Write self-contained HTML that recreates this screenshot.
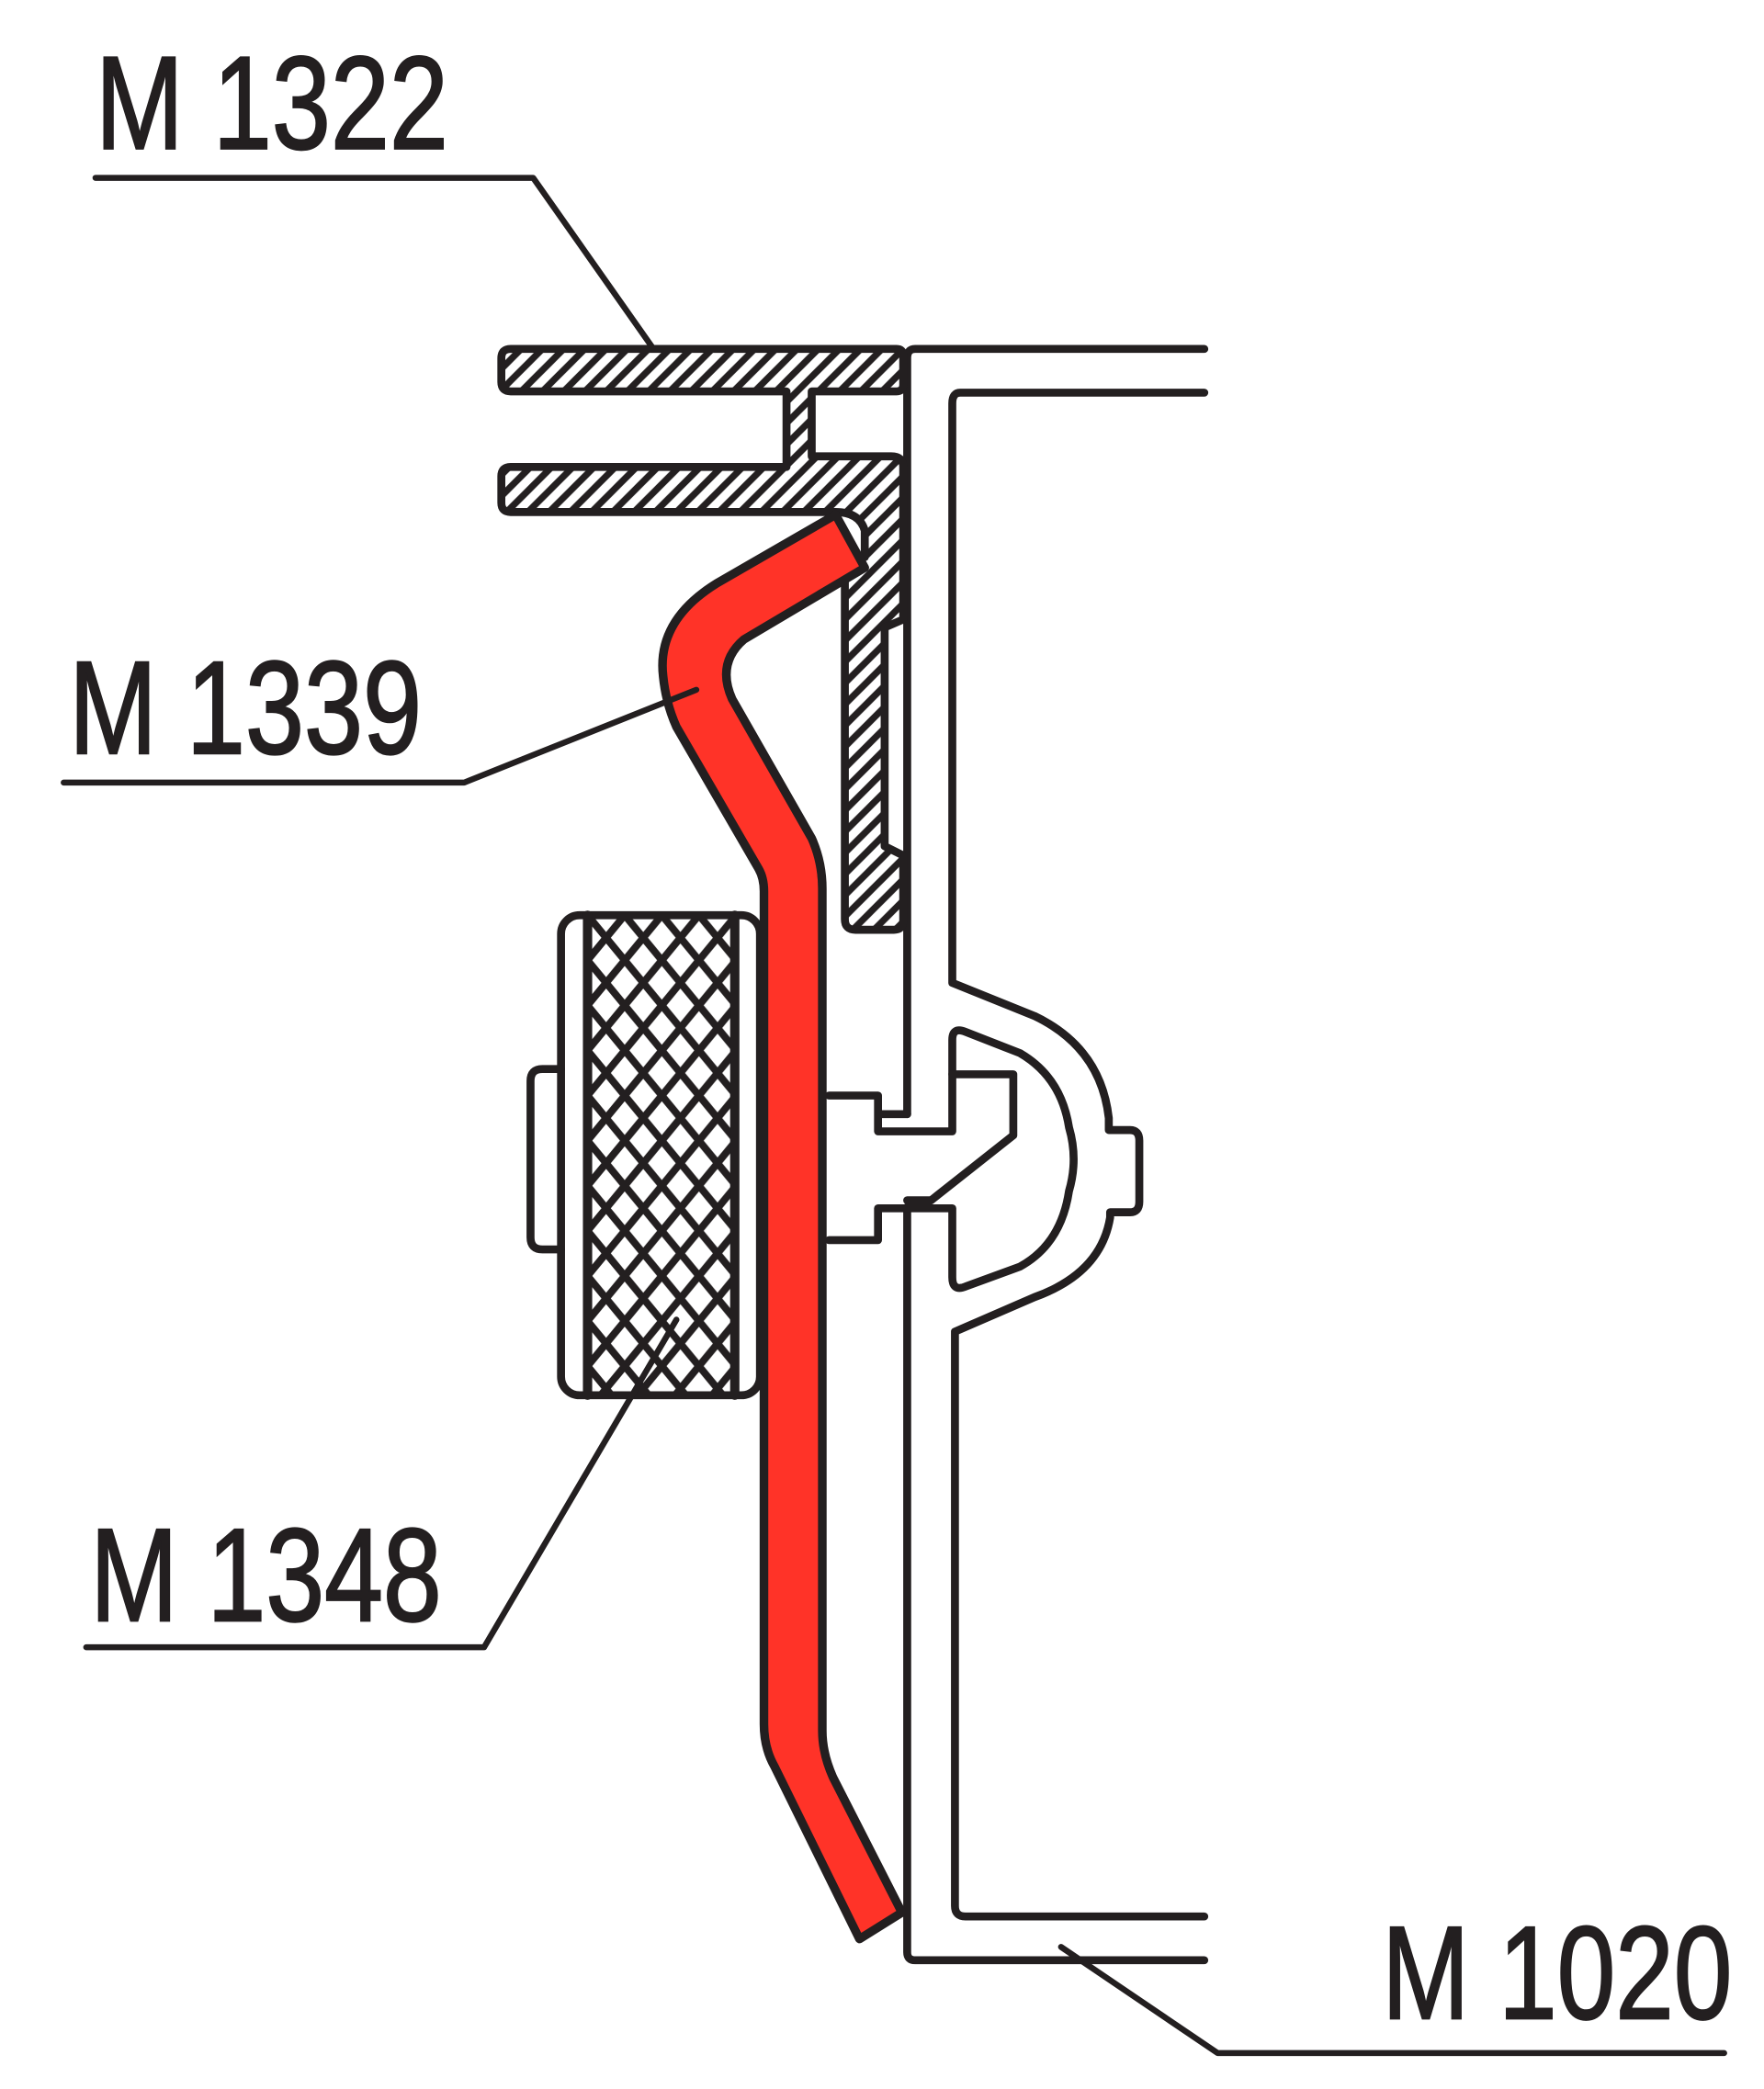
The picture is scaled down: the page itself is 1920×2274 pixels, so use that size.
<!DOCTYPE html>
<html><head><meta charset="utf-8"><style>html,body{margin:0;padding:0;background:#fff}svg{display:block}</style></head>
<body>
<svg width="1920" height="2274" viewBox="0 0 1330 1575" xmlns="http://www.w3.org/2000/svg">
<defs>
<pattern id="h" patternUnits="userSpaceOnUse" width="16" height="16">
<path d="M-2,18 L18,-2 M-10,10 L10,-10 M6,26 L26,6" stroke="#231f20" stroke-width="5"/>
</pattern>
<pattern id="x" patternUnits="userSpaceOnUse" width="28" height="34" x="443" y="690">
<path d="M-14,-17 L42,51 M-14,17 L14,51 M14,-17 L42,17 M42,-17 L-14,51 M14,-17 L-14,17 M42,17 L14,51" stroke="#231f20" stroke-width="5.5"/>
</pattern>
</defs>
<g fill="none" stroke="#231f20" stroke-width="6" stroke-linejoin="round" stroke-linecap="round">
<path d="M908,263 H690 Q684,263 684,270 V840"/>
<path d="M684,910 V1472 Q684,1478 690,1478 H908"/>
<path d="M908,296 H724 Q718,296 718,304 V741 L780,766 Q830,790 836,843 V852 H852 Q859,852 859,860 V906 Q859,914 852,914 H837 V918 Q830,960 780,978 L720,1004 V1437 Q720,1445 728,1445 H908"/>
<path d="M625,826 H662 V840 H684 M662,840 V853 H718 V784 Q718,774 728,778 L769,794 Q800,812 806,850 Q813,874 806,898 Q800,938 769,955 L728,970 Q718,974 718,963 V911 H662 V935 H625"/>
<path d="M718,810 H764 V856 L702,905"/>
<path d="M684,905 H702"/>
<path fill="url(#h)" d="M385,263 H676 Q681,263 681,268 V290 Q681,295 676,295 H612 V344 H672 Q681,344 681,352 V467 L667,473 V638 L681,645 V694 Q681,701 674,701 H645 Q637,701 637,693 V428 L652,420 V400 Q648,386 630,386 H385 Q378,386 378,379 V359 Q378,352 385,352 H593 V295 H385 Q378,295 378,288 V270 Q378,263 385,263 Z"/>
<rect x="423" y="690" width="150" height="362" rx="14" fill="#fff"/>
<rect x="443" y="692" width="111" height="358" fill="url(#x)" stroke="none"/>
<path d="M443,690 V1052 M554,690 V1052" stroke-width="7"/>
<path d="M423,806 H409 Q400,806 400,815 V933 Q400,942 409,942 H423"/>
<path fill="#ff3328" stroke-width="6.5" d="M630,388 L540,440 Q495,468 500,510 Q502,530 510,548 L572,655 Q576,662 576,672 L576,1300 Q576,1318 584,1332 L648,1462 L680,1442 L628,1340 Q620,1322 620,1305 L620,670 Q620,650 612,632 L552,527 Q540,500 561,482 L652,428 Z"/>
<path d="M72,134 H402 L492,262" stroke-width="4.5"/>
<path d="M48,590 H350 L525,520" stroke-width="4.5"/>
<path d="M65,1242 H365 L510,995" stroke-width="4.5"/>
<path d="M1300,1548 H918 L800,1468" stroke-width="4.5"/>
</g>
<g font-family="'Liberation Sans Narrow','Liberation Sans',sans-serif" font-size="100" fill="#231f20" stroke="#231f20" stroke-width="1.5">
<text x="72" y="112" textLength="266" lengthAdjust="spacingAndGlyphs">M 1322</text>
<text x="52" y="568" textLength="266" lengthAdjust="spacingAndGlyphs">M 1339</text>
<text x="68" y="1222" textLength="265" lengthAdjust="spacingAndGlyphs">M 1348</text>
<text x="1042" y="1522" textLength="264" lengthAdjust="spacingAndGlyphs">M 1020</text>
</g>
</svg>
</body></html>
